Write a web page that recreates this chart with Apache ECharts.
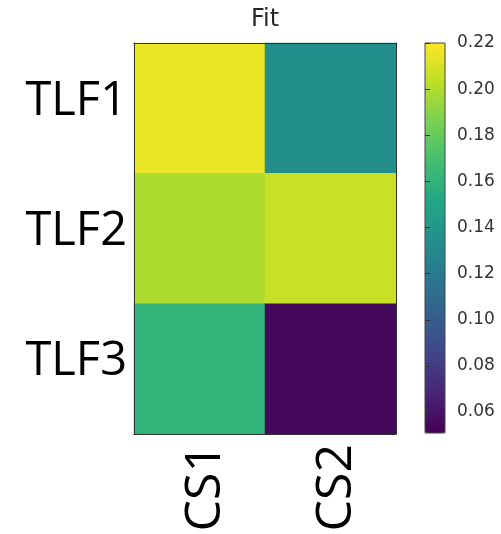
<!DOCTYPE html>
<html>
<head>
<meta charset="utf-8">
<script src="https://cdn.jsdelivr.net/npm/echarts@6/dist/echarts.min.js"></script>
<style>html,body{margin:0;padding:0;background:#fff;}#c{width:501px;height:534px;}</style>
</head>
<body>
<div id="c"></div>
<script>
// Data
const columns = ['CS1', 'CS2'];
const rows = ['TLF1', 'TLF2', 'TLF3'];
const rowTLF1 = [0.215, 0.134];
const rowTLF2 = [0.199, 0.206];
const rowTLF3 = [0.161, 0.055];
const colorbarMin = 0.0509;
const colorbarMax = 0.22;
const colorbarTicks = [0.06, 0.08, 0.10, 0.12, 0.14, 0.16, 0.18, 0.20, 0.22];
const viridis = ['#440154','#482475','#414487','#355f8d','#2a788e','#21918c','#22a884','#44bf70','#7ad151','#bddf26','#fde725'];

const rowValues = [rowTLF1, rowTLF2, rowTLF3];
const data = [];
rowValues.forEach((vals, r) => vals.forEach((v, c) => data.push([c, r, v])));

const chart = echarts.init(document.getElementById('c'));
const axLine = {show: true, lineStyle: {color: '#333', width: 1}};
chart.setOption({
  animation: false,
  backgroundColor: '#fff',
  title: {text: 'Fit', left: 246, top: 3, textStyle: {fontFamily: 'DejaVu Sans', fontSize: 24, fontWeight: 'normal', color: '#262626'}},
  grid: [
    {left: 134, top: 43, width: 262, height: 391, containLabel: false, outerBoundsMode: 'none'},
    {left: 425, top: 43, width: 20, height: 390, show: true, borderColor: '#444', borderWidth: 1, backgroundColor: 'transparent', z: 10, outerBoundsMode: 'none'}
  ],
  xAxis: [
    {type: 'category', gridIndex: 0, data: columns, position: 'bottom', z: 10, axisLine: axLine, axisTick: {show: false},
     axisLabel: {rotate: 90, fontFamily: 'Open Sans', fontSize: 50, color: '#000', margin: 10, verticalAlign: 'top', lineHeight: 12}, splitLine: {show: false}},
    {type: 'category', gridIndex: 0, data: columns, position: 'top', z: 10, axisLine: axLine, axisTick: {show: false}, axisLabel: {show: false}},
    {type: 'value', gridIndex: 1, show: false}
  ],
  yAxis: [
    {type: 'category', gridIndex: 0, data: rows, inverse: true, position: 'left', z: 10, axisLine: axLine, axisTick: {show: false},
     axisLabel: {fontFamily: 'Open Sans', fontSize: 47, color: '#000', margin: 7, verticalAlign: 'bottom', lineHeight: 14}, splitLine: {show: false}},
    {type: 'category', gridIndex: 0, data: rows, inverse: true, position: 'right', z: 10, axisLine: axLine, axisTick: {show: false}, axisLabel: {show: false}},
    {type: 'value', gridIndex: 1, min: colorbarMin, max: colorbarMax, position: 'right', z: 11,
     axisLine: {show: false}, splitLine: {show: false},
     axisTick: {show: true, length: 5, customValues: colorbarTicks, lineStyle: {color: '#333'}},
     axisLabel: {customValues: colorbarTicks, formatter: v => v.toFixed(2), fontFamily: 'DejaVu Sans', fontSize: 17, color: '#333', margin: 12}}
  ],
  visualMap: {
    type: 'continuous', min: colorbarMin, max: colorbarMax, calculable: false, orient: 'vertical',
    left: 425, top: 43, itemWidth: 20, itemHeight: 390, padding: 0, text: null, showLabel: false,
    hoverLink: false, seriesIndex: 0, inRange: {color: viridis}
  },
  series: [{
    type: 'heatmap', xAxisIndex: 0, yAxisIndex: 0, data: data,
    itemStyle: {borderWidth: 0}, emphasis: {disabled: true}
  }]
});
</script>
</body>
</html>
